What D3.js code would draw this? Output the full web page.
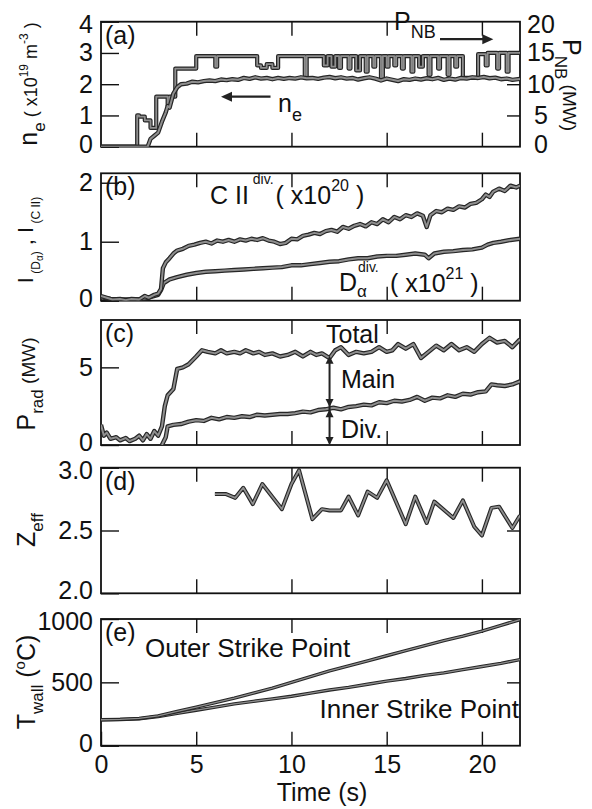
<!DOCTYPE html>
<html><head><meta charset="utf-8">
<script src="https://cdn.jsdelivr.net/npm/d3@7"></script>
<style>
body{margin:0;background:#fff}
svg{display:block}
text{font-family:"Liberation Sans",Arial,Helvetica,sans-serif;fill:#111}
</style>
</head><body><svg id="c" width="592" height="809"></svg>
<script>
// ---------------- DATA ----------------
const timeTicks = [0, 5, 10, 15, 20];
const timeInnerTicks = [5, 10, 15, 20];
const yTicksA = [0, 1, 2, 3, 4];
const yTicksARight = [0, 5, 10, 15, 20];
const yTicksB = [0, 1, 2];
const yTicksC = [0, 5];
const yTicksD = [2.0, 2.5, 3.0];
const yTicksE = [0, 500, 1000];

// (a) NB power (MW), step-after
const pnbData = [[0,0],[1.9,5.0],[2.0,4.8],[2.3,4.2],[2.6,3.0],[2.9,8.0],[3.5,6.5],[3.6,8.0],[3.9,12.5],[5.0,14.5],[5.9,14.5],[6.0,12.8],[6.1,14.5],
 [8.2,13.0],[8.4,12.6],[8.7,13.2],[9.0,12.6],[9.3,14.5],[10.7,11.0],[10.8,14.5],[11.7,13.0],[11.9,14.5],[12.1,12.8],[12.3,14.5],[12.5,12.6],[12.6,14.5],
 [13.0,12.5],[13.1,14.5],[13.4,12.2],[13.6,14.5],[13.9,12.0],[14.0,14.5],[14.3,12.8],[14.4,14.5],[14.7,11.0],[14.8,14.5],[15.0,12.8],[15.1,14.5],
 [15.4,13.0],[15.5,14.5],[15.8,12.5],[15.9,14.5],[16.3,12.0],[16.4,14.5],[16.7,12.8],[16.9,14.5],[17.2,11.5],[17.3,14.5],[17.7,12.5],[17.8,14.5],
 [18.2,11.5],[18.3,14.5],[18.6,12.8],[18.7,14.5],[19.0,11.0],[19.8,14.8],[20.2,13.0],[20.3,15.0],[20.8,12.5],[20.9,15.0],[21.3,12.0],[21.4,15.0],[22,15.0]];
// (a) line-averaged density (1e19 m^-3)
const neData = [[0,0],[2.45,0],[2.6,0.25],[2.8,0.35],[3.0,0.45],[3.2,0.8],[3.4,1.1],[3.5,1.3],[3.6,1.25],[3.8,1.7],[4.0,1.9],[4.2,2.0],[4.5,2.02],[4.8,2.08],
 [5.1,2.06],[5.4,2.1],[5.7,2.12],[6.0,2.1],[6.3,2.15],[6.6,2.13],[6.9,2.16],[7.2,2.14],[7.5,2.2],[7.8,2.17],[8.1,2.22],[8.4,2.18],[8.7,2.2],[9.0,2.16],
 [9.3,2.2],[9.6,2.17],[9.9,2.2],[10.2,2.18],[10.5,2.22],[10.8,2.19],[11.1,2.2],[11.4,2.17],[11.7,2.21],[12.0,2.23],[12.3,2.19],[12.6,2.22],[12.9,2.18],
 [13.2,2.2],[13.5,2.15],[13.8,2.19],[14.1,2.22],[14.4,2.18],[14.7,2.12],[15.0,2.18],[15.3,2.14],[15.6,2.1],[15.9,2.16],[16.2,2.14],[16.5,2.18],[16.8,2.15],
 [17.1,2.19],[17.4,2.16],[17.7,2.2],[18.0,2.14],[18.3,2.18],[18.6,2.15],[18.9,2.2],[19.2,2.18],[19.5,2.22],[19.8,2.2],[20.1,2.23],[20.4,2.19],[20.7,2.21],
 [21.0,2.16],[21.3,2.18],[21.6,2.14],[22,2.17]];
// (b) divertor C II and D-alpha intensities
const ciiData = [[0,0.08],[0.3,0.05],[0.6,0.02],[1,0.03],[1.3,0.01],[1.6,0.03],[2,0.02],[2.3,0.08],[2.5,0.05],[2.8,0.1],[3.0,0.12],[3.15,0.2],[3.25,0.55],
 [3.4,0.65],[3.6,0.72],[3.8,0.8],[4.0,0.85],[4.3,0.88],[4.6,0.93],[4.9,0.95],[5.2,0.98],[5.5,1.0],[5.8,0.97],[6.1,1.02],[6.4,1.0],[6.7,1.03],[7,1.0],
 [7.3,1.04],[7.6,1.02],[7.9,1.05],[8.2,1.03],[8.5,1.06],[8.8,1.02],[9.1,1.0],[9.4,0.96],[9.7,0.98],[10.0,1.05],[10.3,1.04],[10.6,1.1],[10.9,1.12],
 [11.2,1.15],[11.5,1.13],[11.8,1.18],[12.1,1.2],[12.4,1.17],[12.7,1.25],[13.0,1.22],[13.3,1.27],[13.6,1.3],[13.9,1.26],[14.2,1.33],[14.5,1.3],[14.8,1.38],
 [15.1,1.33],[15.4,1.42],[15.7,1.38],[16.0,1.45],[16.3,1.42],[16.6,1.48],[16.9,1.44],[17.1,1.25],[17.3,1.45],[17.6,1.52],[17.9,1.5],[18.2,1.56],[18.5,1.54],
 [18.8,1.6],[19.1,1.58],[19.4,1.64],[19.7,1.66],[20.0,1.72],[20.2,1.8],[20.4,1.76],[20.6,1.85],[20.9,1.9],[21.2,1.86],[21.5,1.95],[21.8,1.92],[22,1.95]];
const daData = [[0,0.06],[0.5,0.03],[1,0.02],[1.5,0.02],[2,0.02],[2.5,0.05],[3.0,0.1],[3.15,0.18],[3.3,0.3],[3.6,0.36],[4.0,0.4],[4.5,0.44],[5.0,0.47],
 [5.5,0.49],[6,0.5],[6.5,0.51],[7,0.52],[7.5,0.53],[8,0.54],[8.5,0.55],[9,0.56],[9.5,0.57],[10,0.6],[10.5,0.6],[11,0.62],[11.5,0.64],[12,0.66],[12.5,0.67],
 [13,0.7],[13.5,0.72],[14,0.72],[14.5,0.75],[15,0.76],[15.5,0.76],[16,0.78],[16.5,0.8],[17,0.78],[17.2,0.72],[17.5,0.8],[18,0.83],[18.5,0.84],[19,0.86],
 [19.5,0.87],[20,0.9],[20.3,0.95],[20.6,0.98],[21,1.0],[21.5,1.03],[22,1.05]];
// (c) radiated power (MW)
const pradTotal = [[0,1.3],[0.15,0.6],[0.3,0.8],[0.5,0.4],[0.8,0.5],[1.0,0.3],[1.3,0.45],[1.5,0.25],[1.8,0.4],[2.0,0.6],[2.2,0.3],[2.4,0.7],[2.6,0.4],
 [2.8,0.9],[3.0,0.6],[3.2,1.2],[3.35,2.5],[3.5,3.2],[3.8,3.6],[4.0,4.9],[4.3,5.0],[4.6,5.2],[5.0,5.7],[5.3,6.1],[5.6,6.0],[6.0,5.9],[6.3,6.1],[6.6,5.9],
 [7,6.0],[7.3,5.9],[7.6,6.1],[8,5.9],[8.3,6.0],[8.6,5.8],[9,5.9],[9.4,5.7],[9.8,5.8],[10.2,6.0],[10.6,5.7],[11,6.0],[11.3,5.8],[11.6,5.9],[12,5.6],
 [12.3,6.1],[12.6,6.3],[13,5.8],[13.4,6.0],[13.8,5.9],[14.2,6.0],[14.6,6.3],[15,6.0],[15.3,6.1],[15.6,6.5],[16,6.2],[16.4,6.5],[16.8,5.6],[17.2,6.0],
 [17.6,6.4],[18,6.1],[18.4,6.5],[18.8,6.1],[19.2,6.3],[19.6,6.0],[20,6.5],[20.4,6.9],[20.8,6.6],[21.2,6.7],[21.6,6.3],[22,6.8]];
const pradDiv = [[3.2,0.0],[3.4,0.5],[3.5,1.2],[3.8,1.3],[4.2,1.35],[4.6,1.5],[5.0,1.6],[5.4,1.55],[5.8,1.75],[6.2,1.65],[6.6,1.8],[7.0,1.75],[7.4,1.85],
 [7.8,1.8],[8.2,1.95],[8.6,1.9],[9,1.95],[9.4,2.0],[9.8,2.0],[10.2,2.05],[10.6,2.15],[11,2.1],[11.4,2.25],[11.8,2.3],[12.2,2.4],[12.6,2.3],[13,2.45],
 [13.4,2.5],[13.8,2.6],[14.2,2.55],[14.6,2.75],[15,2.7],[15.4,2.85],[15.8,2.8],[16.2,2.9],[16.6,3.1],[17,2.85],[17.4,3.05],[17.8,3.0],[18.2,3.2],
 [18.6,3.1],[19,3.3],[19.4,3.25],[19.8,3.4],[20.2,3.45],[20.5,3.9],[20.8,3.85],[21.2,3.8],[21.6,3.9],[22,4.1]];
// (d) Zeff
const zeffData = [[5.98,2.79],[6.57,2.79],[7.05,2.76],[7.47,2.84],[7.97,2.71],[8.47,2.87],[9.5,2.67],[10.0,2.87],[10.4,2.98],[11.1,2.59],[11.6,2.67],
 [12.0,2.66],[12.6,2.66],[13.0,2.77],[13.5,2.62],[14.0,2.81],[14.5,2.76],[15.0,2.9],[16.0,2.55],[16.5,2.77],[17.1,2.56],[17.5,2.73],[18.5,2.6],[19.0,2.74],
 [19.6,2.53],[20.0,2.46],[20.5,2.68],[20.9,2.69],[21.6,2.52],[22,2.62]];
// (e) wall temperature (deg C)
const outerSP = [[0,205],[1,208],[2,215],[3,235],[4,270],[5,305],[6,340],[7,375],[8,415],[9,455],[10,500],[11,545],[12,590],[13,630],[14,670],
 [15,710],[16,750],[17,790],[18,830],[19,865],[20,905],[21,950],[22,995]];
const innerSP = [[0,205],[1,207],[2,212],[3,230],[4,255],[5,280],[6,305],[7,330],[8,350],[9,370],[10,390],[11,415],[12,440],[13,460],[14,485],
 [15,510],[16,530],[17,555],[18,575],[19,600],[20,625],[21,650],[22,680]];

// ---------------- LAYOUT ----------------
const svg = d3.select('#c');
const X0 = 101, X1 = 520;
const x = d3.scaleLinear().domain([0, 22]).range([X0, X1]);
const FS = 25;
const DARK = '#262626', GRAY = '#8e8e8e';

const panels = {
  a: {top: 21.7, bottom: 146.7, domain: [0, 4], ticks: yTicksA, fmt: d3.format('d'), right: [1, 2, 3]},
  b: {top: 173.3, bottom: 300.7, domain: [0, 2.16], ticks: yTicksB, fmt: d3.format('d'), right: []},
  c: {top: 320, bottom: 445, domain: [0, 8.05], ticks: yTicksC, fmt: d3.format('d'), right: []},
  d: {top: 467.7, bottom: 593.3, domain: [2, 3], ticks: yTicksD, fmt: d3.format('.1f'), right: [2.5]},
  e: {top: 619, bottom: 745.7, domain: [0, 1000], ticks: yTicksE, fmt: d3.format('d'), right: [500]}
};
Object.entries(panels).forEach(([k, p]) => {
  p.y = d3.scaleLinear().domain(p.domain).range([p.bottom, p.top]);
  svg.append('clipPath').attr('id', 'clip-' + k).append('rect')
    .attr('x', X0).attr('y', p.top).attr('width', X1 - X0).attr('height', p.bottom - p.top);
  p.g = svg.append('g');
  p.plot = svg.append('g').attr('clip-path', `url(#clip-${k})`);
});

function drawFrame(k, showX) {
  const p = panels[k], g = p.g;
  const d0 = p.domain[0], d1 = p.domain[1];
  // left axis
  const la = g.append('g').attr('transform', `translate(${X0},0)`)
    .call(d3.axisLeft(p.y).tickValues(p.ticks).tickFormat(p.fmt).tickSize(-18).tickPadding(8));
  la.select('.domain').remove();
  la.selectAll('line').attr('stroke', '#111').attr('stroke-width', 1.4);
  la.selectAll('text').attr('font-size', FS).attr('font-family', '"Liberation Sans",Arial,sans-serif').attr('fill', '#111')
    .attr('dy', v => v === d0 ? '0.22em' : (Math.abs(v - d1) < 1e-9 || v > d1 ? '0.42em' : '0.32em'));
  // right ticks
  if (p.right.length) {
    const ra = g.append('g').attr('transform', `translate(${X1},0)`)
      .call(d3.axisRight(p.y).tickValues(p.right).tickFormat('').tickSize(-13));
    ra.select('.domain').remove();
    ra.selectAll('line').attr('stroke', '#111').attr('stroke-width', 1.4);
  }
  // top / bottom ticks
  const ta = g.append('g').attr('transform', `translate(0,${p.top})`)
    .call(d3.axisTop(x).tickValues(timeInnerTicks).tickFormat('').tickSize(-14));
  ta.select('.domain').remove();
  ta.selectAll('line').attr('stroke', '#111').attr('stroke-width', 1.4);
  const ba = g.append('g').attr('transform', `translate(0,${p.bottom})`)
    .call(d3.axisBottom(x).tickValues(showX ? timeTicks : timeInnerTicks).tickFormat(showX ? d3.format('d') : '').tickSize(-14).tickPadding(10));
  ba.select('.domain').remove();
  ba.selectAll('line').attr('stroke', '#111').attr('stroke-width', 1.4);
  ba.selectAll('text').attr('font-size', FS).attr('font-family', '"Liberation Sans",Arial,sans-serif').attr('fill', '#111');
  // box
  g.append('rect').attr('x', X0).attr('y', p.top).attr('width', X1 - X0).attr('height', p.bottom - p.top)
    .attr('fill', 'none').attr('stroke', '#111').attr('stroke-width', 1.8);
  // panel letter
  g.append('text').attr('x', X0 + 4).attr('y', p.top + 22).attr('font-size', FS).text(`(${k})`);
}

function trace(k, data, yScale, opt = {}) {
  const p = panels[k];
  const line = d3.line().x(d => x(d[0])).y(d => yScale(d[1])).curve(opt.curve || d3.curveLinear);
  p.plot.append('path').attr('d', line(data)).attr('fill', 'none').attr('stroke', DARK)
    .attr('stroke-width', opt.outer || 4.4).attr('stroke-linejoin', 'round').attr('stroke-linecap', 'butt');
  p.plot.append('path').attr('d', line(data)).attr('fill', 'none').attr('stroke', GRAY)
    .attr('stroke-width', opt.inner || 2.0).attr('stroke-linejoin', 'round');
}

function rich(sel, parts) {
  let cur = 0;
  parts.forEach(pt => {
    const sh = pt.dy || 0;
    const ts = sel.append('tspan').attr('font-size', pt.s || FS).attr('dy', sh - cur).text(pt.t);
    if (pt.x !== undefined) ts.attr('x', pt.x);
    if (pt.dx !== undefined) ts.attr('dx', pt.dx);
    cur = sh;
  });
  return sel;
}

function arrowHead(x0, y0, dir, size = 9, w = 5) {
  let pts;
  if (dir === 'right') pts = [[x0, y0], [x0 - size, y0 - w], [x0 - size, y0 + w]];
  if (dir === 'left') pts = [[x0, y0], [x0 + size, y0 - w], [x0 + size, y0 + w]];
  if (dir === 'up') pts = [[x0, y0], [x0 - w, y0 + size], [x0 + w, y0 + size]];
  if (dir === 'down') pts = [[x0, y0], [x0 - w, y0 - size], [x0 + w, y0 - size]];
  svg.append('path').attr('d', d3.line()(pts) + 'Z').attr('fill', '#222');
}

// ---------------- PANEL (a) ----------------
const pa = panels.a;
const yPnb = d3.scaleLinear().domain([0, 20]).range([pa.bottom, pa.top]);
drawFrame('a', false);
{
  const ra = pa.g.append('g').attr('transform', `translate(${X1},0)`)
    .call(d3.axisRight(yPnb).tickValues(yTicksARight).tickFormat(d3.format('d')).tickSize(0).tickPadding(21));
  ra.select('.domain').remove();
  ra.selectAll('text').attr('font-size', FS).attr('text-anchor', 'middle').attr('font-family', '"Liberation Sans",Arial,sans-serif').attr('fill', '#111')
    .attr('dy', v => v === 0 ? '0.22em' : (v === 20 ? '0.42em' : '0.32em'));
}
trace('a', pnbData, yPnb, {curve: d3.curveStepAfter, outer: 4.2, inner: 1.8});
trace('a', neData, pa.y, {outer: 4.4, inner: 2.0});
// P_NB annotation
rich(svg.append('text').attr('x', 394).attr('y', pa.y(3.72)), [{t: 'P'}, {t: 'NB', s: 18, dy: 8}]);
svg.append('line').attr('x1', x(17.8)).attr('x2', x(20.3)).attr('y1', yPnb(17.2)).attr('y2', yPnb(17.2)).attr('stroke', '#222').attr('stroke-width', 2.2);
arrowHead(x(20.6), yPnb(17.2), 'right', 11, 5);
// n_e annotation
svg.append('line').attr('x1', x(6.7)).attr('x2', x(8.9)).attr('y1', pa.y(1.6)).attr('y2', pa.y(1.6)).attr('stroke', '#222').attr('stroke-width', 2.2);
arrowHead(x(6.3), pa.y(1.6), 'left', 11, 5);
rich(svg.append('text').attr('x', x(9.3)).attr('y', pa.y(1.12)), [{t: 'n'}, {t: 'e', s: 18, dy: 9}]);

// ---------------- PANEL (b) ----------------
const pb = panels.b;
drawFrame('b', false);
trace('b', daData, pb.y);
trace('b', ciiData, pb.y);
rich(svg.append('text').attr('x', 210).attr('y', 204), [{t: 'C II'}, {t: ' div.', s: 14, dy: -20}, {t: '( x10', dy: 0, dx: 2}, {t: '20', s: 16, dy: -13}, {t: ' )', dy: 0}]);
rich(svg.append('text').attr('x', 339).attr('y', 291), [{t: 'D'}, {t: 'α', s: 17, dy: 6}]);
rich(svg.append('text').attr('x', 358).attr('y', 272), [{t: 'div.', s: 14}]);
rich(svg.append('text').attr('x', 390).attr('y', 292), [{t: '( x10'}, {t: '21', s: 16, dy: -13}, {t: ' )', dy: 0}]);

// ---------------- PANEL (c) ----------------
const pc = panels.c;
drawFrame('c', false);
trace('c', pradDiv, pc.y);
trace('c', pradTotal, pc.y);
{
  const ax = x(12.0);
  svg.append('line').attr('x1', ax).attr('x2', ax).attr('y1', pc.y(5.55)).attr('y2', pc.y(0.1)).attr('stroke', '#222').attr('stroke-width', 2);
  arrowHead(ax, pc.y(5.75), 'up', 8, 4);
  arrowHead(ax, pc.y(2.45), 'down', 8, 4);
  arrowHead(ax, pc.y(2.3), 'up', 8, 4);
  arrowHead(ax, pc.y(0.0), 'down', 8, 4);
  svg.append('text').attr('x', 326).attr('y', 343).attr('font-size', FS).text('Total');
  svg.append('text').attr('x', 341).attr('y', 388).attr('font-size', FS).text('Main');
  svg.append('text').attr('x', 341).attr('y', 438).attr('font-size', FS).text('Div.');
}

// ---------------- PANEL (d) ----------------
const pd = panels.d;
drawFrame('d', false);
trace('d', zeffData, pd.y, {outer: 4.0, inner: 1.8});

// ---------------- PANEL (e) ----------------
const pe = panels.e;
drawFrame('e', true);
trace('e', innerSP, pe.y, {outer: 3.4, inner: 1.3});
trace('e', outerSP, pe.y, {outer: 3.4, inner: 1.3});
svg.append('text').attr('x', 145).attr('y', 657).attr('font-size', 26).text('Outer Strike Point');
svg.append('text').attr('x', 519).attr('y', 718).attr('font-size', 26).attr('text-anchor', 'end').text('Inner Strike Point');
svg.append('text').attr('x', 322).attr('y', 801).attr('font-size', FS).attr('text-anchor', 'middle').text('Time (s)');

// ---------------- AXIS TITLES ----------------
function rotTitle(cx, cy, ang, parts) {
  const t = svg.append('text').attr('transform', `translate(${cx},${cy}) rotate(${ang})`).attr('text-anchor', 'middle');
  rich(t, parts);
}
rotTitle(37, 84, -90, [{t: 'n'}, {t: 'e', s: 17, dy: 8}, {t: ' ( x10', s: 18, dy: 0}, {t: '19', s: 12, dy: -9}, {t: ' m', s: 18, dy: 0}, {t: '-3', s: 12, dy: -9}, {t: ' )', s: 18, dy: 0}]);
rotTitle(563, 85, 90, [{t: 'P'}, {t: 'NB', s: 17, dy: 8}, {t: ' (MW)', s: 19, dy: 0}]);
rotTitle(33, 240, -90, [{t: 'I', s: 22}, {t: ' (D', s: 12, dy: 7}, {t: 'α', s: 10, dy: 10}, {t: ')', s: 12, dy: 7}, {t: ' , ', s: 22, dy: 0}, {t: 'I', s: 22, dy: 0}, {t: '  (C II)', s: 12, dy: 7}]);
rotTitle(35, 384, -90, [{t: 'P'}, {t: 'rad', s: 17, dy: 8}, {t: ' (MW)', s: 19, dy: 0}]);
rotTitle(35, 530, -90, [{t: 'Z'}, {t: 'eff', s: 17, dy: 8}]);
rotTitle(35, 682, -90, [{t: 'T'}, {t: 'wall', s: 17, dy: 8}, {t: ' (', dy: 0}, {t: 'o', s: 15, dy: -10}, {t: 'C)', dy: 0}]);
</script></body></html>
